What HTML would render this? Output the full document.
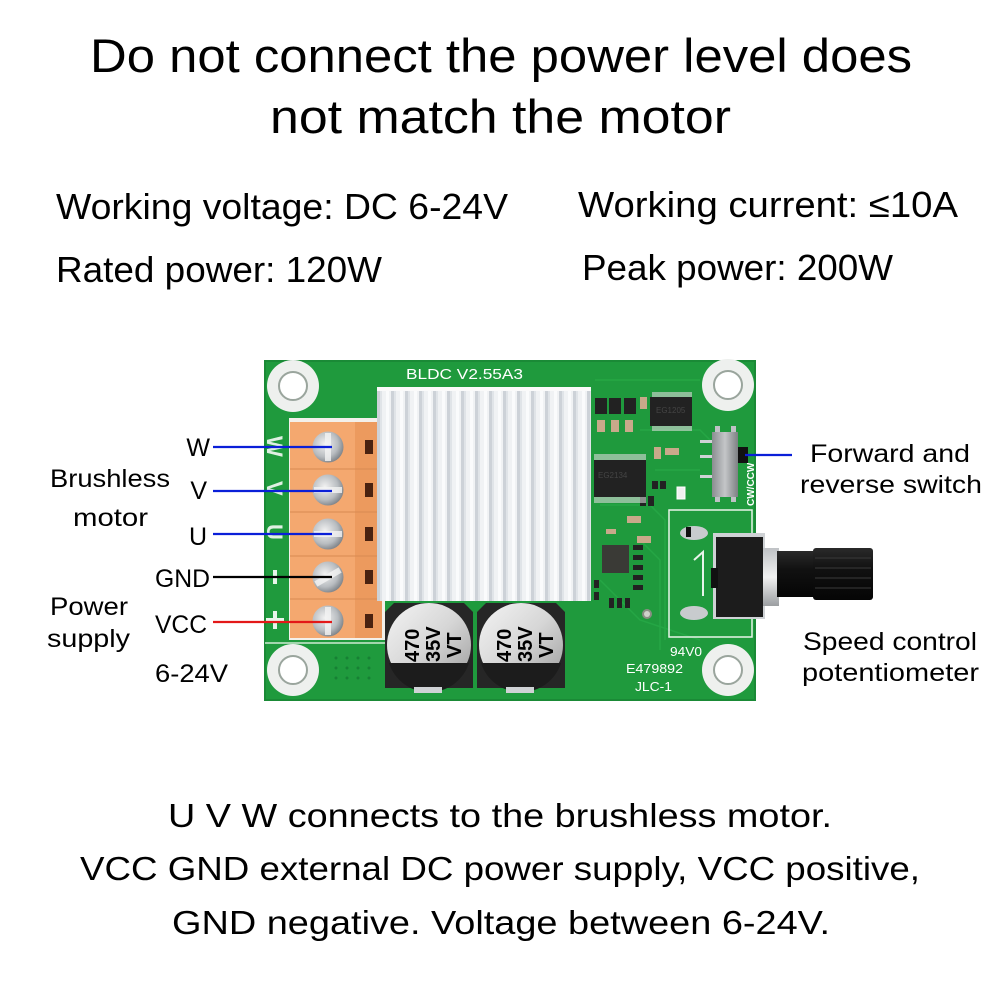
<!DOCTYPE html>
<html><head><meta charset="utf-8"><style>
html,body{margin:0;padding:0;background:#fff;}
svg{display:block;}
text{font-family:"Liberation Sans","DejaVu Sans",sans-serif;fill:#000;}
</style></head><body>
<svg width="1000" height="1000" viewBox="0 0 1000 1000" xmlns="http://www.w3.org/2000/svg">
<defs>
<pattern id="fins" x="377" y="0" width="14" height="20" patternUnits="userSpaceOnUse">
<rect width="14" height="20" fill="#f0f2f4"/>
<rect x="0" width="3" height="20" fill="#cdd2d8"/>
<rect x="3" width="2" height="20" fill="#e0e4e8"/>
<rect x="9" width="3" height="20" fill="#fafbfc"/>
</pattern>
<radialGradient id="screw" cx="0.4" cy="0.4" r="0.7">
<stop offset="0" stop-color="#f2f2f2"/><stop offset="0.6" stop-color="#b8bcc0"/><stop offset="1" stop-color="#6d7278"/>
</radialGradient>
<linearGradient id="cap" x1="0" y1="0" x2="1" y2="1">
<stop offset="0" stop-color="#f4f4f4"/><stop offset="0.5" stop-color="#d6d6d6"/><stop offset="1" stop-color="#9a9a9a"/>
</linearGradient>
<linearGradient id="sw" x1="0" y1="0" x2="1" y2="0">
<stop offset="0" stop-color="#8a8d90"/><stop offset="0.5" stop-color="#c4c6c8"/><stop offset="1" stop-color="#7d8083"/>
</linearGradient>
<linearGradient id="knob" x1="0" y1="0" x2="0" y2="1">
<stop offset="0" stop-color="#2a2a2a"/><stop offset="0.4" stop-color="#111"/><stop offset="1" stop-color="#050505"/>
</linearGradient>
<linearGradient id="collar" x1="0" y1="0" x2="0" y2="1">
<stop offset="0" stop-color="#bfc2c5"/><stop offset="0.5" stop-color="#f1f1f1"/><stop offset="1" stop-color="#9b9ea1"/>
</linearGradient>
</defs>

<!-- Heading -->
<text x="90" y="72" font-size="47" textLength="822" lengthAdjust="spacingAndGlyphs">Do not connect the power level does</text>
<text x="270" y="133" font-size="47" textLength="461" lengthAdjust="spacingAndGlyphs">not match the motor</text>

<text x="56" y="219" font-size="36" textLength="452" lengthAdjust="spacingAndGlyphs">Working voltage: DC 6-24V</text>
<text x="56" y="282" font-size="36" textLength="326" lengthAdjust="spacingAndGlyphs">Rated power: 120W</text>
<text x="578" y="217" font-size="36" textLength="380" lengthAdjust="spacingAndGlyphs">Working current: ≤10A</text>
<text x="582" y="280" font-size="36" textLength="311" lengthAdjust="spacingAndGlyphs">Peak power: 200W</text>

<!-- Board -->
<rect x="265" y="361" width="490" height="339" fill="#1f9a3d"/>
<rect x="265" y="361" width="490" height="339" fill="none" stroke="#1a8a36" stroke-width="2"/>
<g stroke="#26a846" stroke-width="1.5" fill="none" opacity="0.9">
<path d="M600 505 L650 505 L665 520 L665 640"/>
<path d="M640 540 L660 560 L660 650"/>
<path d="M595 380 L700 380"/>
<path d="M640 430 L700 430 L710 440"/>
<path d="M600 580 L640 620 L700 640"/>
<path d="M655 470 L700 470"/>
</g>
<line x1="265" y1="643" x2="385" y2="643" stroke="#cfe9d4" stroke-width="1.5"/>

<!-- mounting holes -->
<g>
<circle cx="293" cy="386" r="26" fill="#eef0ee"/><circle cx="293" cy="386" r="14" fill="#fff" stroke="#9aa59d" stroke-width="2"/>
<circle cx="728" cy="385" r="26" fill="#eef0ee"/><circle cx="728" cy="385" r="14" fill="#fff" stroke="#9aa59d" stroke-width="2"/>
<circle cx="293" cy="670" r="26" fill="#eef0ee"/><circle cx="293" cy="670" r="14" fill="#fff" stroke="#9aa59d" stroke-width="2"/>
<circle cx="728" cy="670" r="26" fill="#eef0ee"/><circle cx="728" cy="670" r="14" fill="#fff" stroke="#9aa59d" stroke-width="2"/>
</g>

<!-- silkscreen text -->
<text x="406" y="379" font-size="15" style="fill:#fff" textLength="117" lengthAdjust="spacingAndGlyphs">BLDC  V2.55A3</text>
<text x="670" y="656" font-size="13" style="fill:#fff" textLength="32" lengthAdjust="spacingAndGlyphs">94V0</text>
<text x="626" y="673" font-size="13" style="fill:#fff" textLength="57" lengthAdjust="spacingAndGlyphs">E479892</text>
<text x="635" y="691" font-size="13" style="fill:#fff" textLength="37" lengthAdjust="spacingAndGlyphs">JLC-1</text>
<text transform="translate(754,506) rotate(-90)" font-size="10" style="fill:#fff" font-weight="bold">CW/CCW</text>
<g font-size="22" font-weight="bold">
<text transform="translate(267,436) rotate(90)" style="fill:#dff0e3">W</text>
<text transform="translate(267,481) rotate(90)" style="fill:#dff0e3">V</text>
<text transform="translate(267,524) rotate(90)" style="fill:#dff0e3">U</text>
</g>
<rect x="273" y="570" width="4" height="14" fill="#e8f4ea"/>
<rect x="266" y="618" width="18" height="4" fill="#e8f4ea"/><rect x="273" y="611" width="4" height="18" fill="#e8f4ea"/>

<!-- dot grid -->
<g fill="#178034">
<circle cx="336" cy="658" r="1.5"/><circle cx="347" cy="658" r="1.5"/><circle cx="358" cy="658" r="1.5"/><circle cx="369" cy="658" r="1.5"/>
<circle cx="336" cy="668" r="1.5"/><circle cx="347" cy="668" r="1.5"/><circle cx="358" cy="668" r="1.5"/><circle cx="369" cy="668" r="1.5"/>
<circle cx="336" cy="678" r="1.5"/><circle cx="347" cy="678" r="1.5"/><circle cx="358" cy="678" r="1.5"/><circle cx="369" cy="678" r="1.5"/>
</g>

<!-- terminal block -->
<rect x="289" y="418" width="96" height="222" fill="#f3f0ea"/>
<rect x="290" y="422" width="65" height="216" fill="#f4a86f"/>
<rect x="355" y="422" width="27" height="216" fill="#ec9a5e"/>
<g stroke="#d98a52" stroke-width="1">
<line x1="290" y1="469" x2="382" y2="469"/><line x1="290" y1="512" x2="382" y2="512"/>
<line x1="290" y1="556" x2="382" y2="556"/><line x1="290" y1="599" x2="382" y2="599"/>
</g>
<g fill="#4a2210">
<rect x="365" y="440" width="8" height="14"/><rect x="365" y="483" width="8" height="14"/>
<rect x="365" y="527" width="8" height="14"/><rect x="365" y="570" width="8" height="14"/>
<rect x="365" y="614" width="8" height="14"/>
</g>
<g>
<circle cx="328" cy="447" r="15.5" fill="url(#screw)"/><rect x="325" y="433" width="6" height="28" fill="#f4f4f4" opacity="0.8"/>
<circle cx="328" cy="490" r="15.5" fill="url(#screw)"/><rect x="314" y="487" width="28" height="6" fill="#f4f4f4" opacity="0.8"/>
<circle cx="328" cy="534" r="15.5" fill="url(#screw)"/><rect x="314" y="531" width="28" height="6" fill="#f4f4f4" opacity="0.8"/>
<circle cx="328" cy="577" r="15.5" fill="url(#screw)"/><rect x="314" y="574" width="28" height="6" fill="#f4f4f4" opacity="0.8" transform="rotate(-30 328 577)"/>
<circle cx="328" cy="621" r="15.5" fill="url(#screw)"/><rect x="325" y="607" width="6" height="28" fill="#f4f4f4" opacity="0.8"/>
</g>

<!-- heatsink -->
<rect x="377" y="387" width="214" height="214" fill="url(#fins)"/>
<rect x="377" y="387" width="214" height="4" fill="#fafafa"/>

<!-- capacitors -->
<g>
<path d="M385 612 L394 603 L464 603 L473 612 L473 688 L385 688 Z" fill="#262626"/>
<path d="M477 612 L486 603 L556 603 L565 612 L565 688 L477 688 Z" fill="#262626"/>
<circle cx="429" cy="645" r="42" fill="url(#cap)"/>
<circle cx="521" cy="645" r="42" fill="url(#cap)"/>
<path d="M389 663 L469 663 A42 42 0 0 1 389 663 Z" fill="#1c1c1c"/>
<path d="M481 663 L561 663 A42 42 0 0 1 481 663 Z" fill="#1c1c1c"/>
<rect x="414" y="687" width="28" height="6" fill="#cfd2d5"/>
<rect x="506" y="687" width="28" height="6" fill="#cfd2d5"/>
<g font-size="20" font-weight="bold">
<text transform="translate(419,662) rotate(-90)">470</text>
<text transform="translate(440,662) rotate(-90)">35V</text>
<text transform="translate(461,658) rotate(-90)">VT</text>
<text transform="translate(511,662) rotate(-90)">470</text>
<text transform="translate(532,662) rotate(-90)">35V</text>
<text transform="translate(553,658) rotate(-90)">VT</text>
</g>
</g>

<!-- small components -->
<g fill="#222">
<rect x="595" y="398" width="12" height="16"/><rect x="609" y="398" width="12" height="16"/><rect x="624" y="398" width="12" height="16"/>
<rect x="650" y="397" width="42" height="29"/>
<rect x="594" y="460" width="52" height="37"/>
<rect x="602" y="545" width="27" height="28" fill="#3a3a36"/>
<rect x="594" y="580" width="5" height="8"/><rect x="594" y="592" width="5" height="8"/>
<rect x="640" y="496" width="6" height="10"/><rect x="648" y="496" width="6" height="10"/>
<rect x="609" y="598" width="5" height="10"/><rect x="617" y="598" width="5" height="10"/><rect x="625" y="598" width="5" height="10"/>
<rect x="633" y="545" width="10" height="5"/><rect x="633" y="555" width="10" height="5"/><rect x="633" y="565" width="10" height="5"/><rect x="633" y="575" width="10" height="5"/><rect x="633" y="585" width="10" height="5"/>
<rect x="652" y="481" width="6" height="8"/><rect x="660" y="481" width="6" height="8"/>
<rect x="677" y="488" width="5" height="7"/>
</g>
<g fill="#d8d8d8">
<rect x="594" y="454" width="52" height="6" opacity="0.6"/>
<rect x="594" y="497" width="52" height="6" opacity="0.6"/>
<rect x="652" y="392" width="40" height="5" opacity="0.6"/>
<rect x="652" y="426" width="40" height="5" opacity="0.6"/>
</g>
<g fill="#c9a98a">
<rect x="597" y="420" width="8" height="12"/><rect x="611" y="420" width="8" height="12"/><rect x="625" y="420" width="8" height="12"/>
<rect x="640" y="397" width="7" height="12"/>
<rect x="654" y="447" width="7" height="12"/><rect x="665" y="448" width="14" height="7"/>
<rect x="627" y="516" width="14" height="7"/>
<rect x="637" y="536" width="14" height="7"/>
<rect x="606" y="529" width="10" height="5"/>
</g>
<text x="656" y="413" font-size="8" style="fill:#444">EG1205</text>
<text x="598" y="478" font-size="8" style="fill:#444">EG2134</text>
<rect x="677" y="487" width="8" height="12" fill="#f0f0f0" stroke="#fff"/>
<circle cx="647" cy="614" r="5" fill="#8a8e84"/><circle cx="647" cy="614" r="3" fill="#cfd2cc"/>

<!-- slide switch -->
<g>
<rect x="700" y="440" width="14" height="3" fill="#cfd2d5"/>
<rect x="700" y="455" width="14" height="3" fill="#cfd2d5"/>
<rect x="700" y="475" width="14" height="3" fill="#cfd2d5"/>
<rect x="715" y="426" width="5" height="8" fill="#bfc2c5"/><rect x="731" y="426" width="5" height="8" fill="#bfc2c5"/>
<rect x="715" y="494" width="5" height="8" fill="#bfc2c5"/><rect x="731" y="494" width="5" height="8" fill="#bfc2c5"/>
<rect x="712" y="432" width="26" height="65" fill="url(#sw)"/>
<rect x="738" y="447" width="10" height="16" fill="#111"/>
</g>

<!-- pot footprint -->
<rect x="669" y="510" width="83" height="127" fill="none" stroke="#e8f4ea" stroke-width="1.5"/>
<path d="M694 560 L703 552 L703 596" fill="none" stroke="#e8f4ea" stroke-width="2"/>
<ellipse cx="694" cy="533" rx="14" ry="7" fill="#c8cbce"/>
<ellipse cx="694" cy="613" rx="14" ry="7" fill="#c8cbce"/>
<rect x="686" y="527" width="5" height="10" fill="#111"/>
<!-- pot -->
<rect x="713" y="533" width="52" height="86" fill="#cfd2d5"/>
<rect x="716" y="537" width="47" height="80" fill="#1c1c1c"/>
<rect x="711" y="568" width="7" height="20" fill="#111"/>
<rect x="763" y="548" width="16" height="58" fill="url(#collar)"/>
<rect x="777" y="551" width="40" height="46" fill="url(#knob)"/>
<rect x="813" y="548" width="60" height="52" rx="3" fill="url(#knob)"/>
<g stroke="#3a3a3a" stroke-width="1">
<line x1="815" y1="558" x2="871" y2="558"/><line x1="815" y1="568" x2="871" y2="568"/>
<line x1="815" y1="578" x2="871" y2="578"/><line x1="815" y1="588" x2="871" y2="588"/>
</g>

<!-- connector lines -->
<g stroke-width="2.2">
<line x1="213" y1="447" x2="332" y2="447" stroke="#0a1fd8"/>
<line x1="213" y1="491" x2="332" y2="491" stroke="#0a1fd8"/>
<line x1="213" y1="534" x2="332" y2="534" stroke="#0a1fd8"/>
<line x1="213" y1="577" x2="332" y2="577" stroke="#000"/>
<line x1="213" y1="622" x2="332" y2="622" stroke="#e31818"/>
<line x1="745" y1="455" x2="792" y2="455" stroke="#0a1fd8"/>
</g>

<!-- left labels -->
<g font-size="25">
<text x="210" y="456" text-anchor="end">W</text>
<text x="207" y="499" text-anchor="end">V</text>
<text x="207" y="545" text-anchor="end">U</text>
<text x="155" y="587" textLength="55" lengthAdjust="spacingAndGlyphs">GND</text>
<text x="155" y="633" textLength="52" lengthAdjust="spacingAndGlyphs">VCC</text>
<text x="155" y="682" textLength="73" lengthAdjust="spacingAndGlyphs">6-24V</text>
<text x="50" y="487" textLength="120" lengthAdjust="spacingAndGlyphs">Brushless</text>
<text x="73" y="526" textLength="75" lengthAdjust="spacingAndGlyphs">motor</text>
<text x="50" y="615" textLength="78" lengthAdjust="spacingAndGlyphs">Power</text>
<text x="47" y="647" textLength="83" lengthAdjust="spacingAndGlyphs">supply</text>
</g>
<!-- right labels -->
<g font-size="25">
<text x="810" y="462" textLength="160" lengthAdjust="spacingAndGlyphs">Forward and</text>
<text x="800" y="493" textLength="182" lengthAdjust="spacingAndGlyphs">reverse switch</text>
<text x="803" y="650" textLength="174" lengthAdjust="spacingAndGlyphs">Speed control</text>
<text x="802" y="681" textLength="177" lengthAdjust="spacingAndGlyphs">potentiometer</text>
</g>

<!-- bottom text -->
<g font-size="33">
<text x="168" y="827" textLength="664" lengthAdjust="spacingAndGlyphs">U V W connects to the brushless motor.</text>
<text x="80" y="880" textLength="840" lengthAdjust="spacingAndGlyphs">VCC GND external DC power supply, VCC positive,</text>
<text x="172" y="934" textLength="658" lengthAdjust="spacingAndGlyphs">GND negative. Voltage between 6-24V.</text>
</g>
</svg>
</body></html>
